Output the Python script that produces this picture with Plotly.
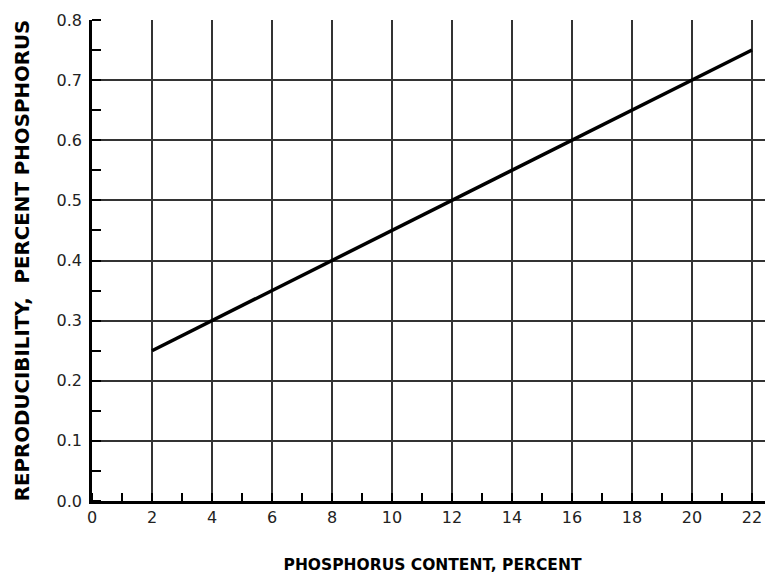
import plotly.graph_objects as go

phosphorus_content = [2, 22]
reproducibility = [0.25, 0.75]
x_tick_vals = list(range(0, 23, 2))
y_tick_vals = [0.0, 0.1, 0.2, 0.3, 0.4, 0.5, 0.6, 0.7, 0.8]
y_tick_text = ["0.0", "0.1", "0.2", "0.3", "0.4", "0.5", "0.6", "0.7", "0.8"]

fig = go.Figure()
fig.add_trace(go.Scatter(x=phosphorus_content, y=reproducibility, mode="lines",
                         line=dict(color="black", width=3.5), showlegend=False))

font = dict(family="DejaVu Sans, Verdana, sans-serif", size=16, color="#222222")
fig.update_layout(
    width=765, height=569,
    margin=dict(l=84, r=0, t=12, b=76),
    plot_bgcolor="white", paper_bgcolor="white",
    font=font,
    xaxis=dict(range=[0, 22.7], tickvals=x_tick_vals, ticks="", automargin=False,
               showgrid=True, gridcolor="#333333", gridwidth=1.5,
               showline=True, linecolor="black", linewidth=2.5,
               zeroline=False, tickfont=dict(size=16),
               minor=dict(dtick=1, tick0=0, ticks="inside", ticklen=8, tickwidth=2,
                          tickcolor="black", showgrid=False),
               title=dict(text="<b>PHOSPHORUS CONTENT, PERCENT</b>", standoff=34,
                          font=dict(size=15.5, color="black"))),
    yaxis=dict(range=[0, 0.8], tickvals=y_tick_vals, ticktext=y_tick_text, ticks="",
               automargin=False, ticklabelstandoff=4,
               showgrid=True, gridcolor="#333333", gridwidth=1.5,
               showline=True, linecolor="black", linewidth=2.5,
               zeroline=False, tickfont=dict(size=16),
               minor=dict(dtick=0.05, tick0=0, ticks="inside", ticklen=9, tickwidth=2,
                          tickcolor="black", showgrid=False),
               title=dict(text="<b>REPRODUCIBILITY,  PERCENT PHOSPHORUS</b>", standoff=22,
                          font=dict(size=19.8, color="black"))),
)
fig.write_html("out.html")
